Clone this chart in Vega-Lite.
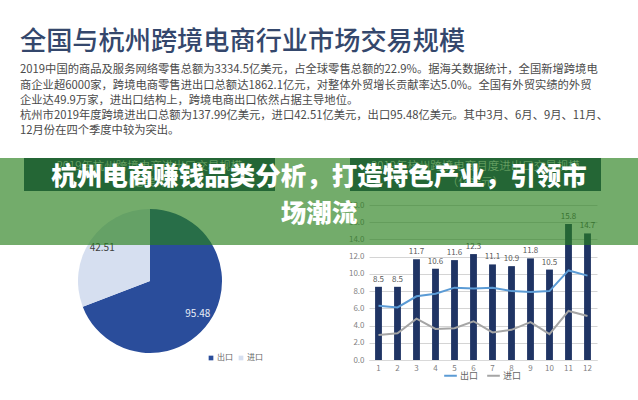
{
  "$schema": "https://vega.github.io/schema/vega-lite/v6.json",
  "background": "white",
  "padding": {"left": 0, "right": 0, "top": 29, "bottom": 0},
  "title": {
    "text": "全国与杭州跨境电商行业市场交易规模",
    "subtitle": [
      "2019中国的商品及服务网络零售总额为3334.5亿美元，占全球零售总额的22.9%。据海关数据统计，全国新增跨境电",
      "商企业超6000家，跨境电商零售进出口总额达1862.1亿元，对整体外贸增长贡献率达5.0%。全国有外贸实绩的外贸",
      "企业达49.9万家，进出口结构上，跨境电商出口依然占据主导地位。",
      "杭州市2019年度跨境进出口总额为137.99亿美元，进口42.51亿美元，出口95.48亿美元。其中3月、6月、9月、11月、",
      "12月份在四个季度中较为突出。"
    ],
    "anchor": "start",
    "frame": "bounds",
    "dx": 20,
    "offset": 16,
    "fontSize": 26.2,
    "fontWeight": 500,
    "color": "#34476c",
    "font": "Noto Sans CJK SC",
    "subtitleFont": "Noto Sans CJK SC",
    "subtitleFontSize": 11.3,
    "subtitleColor": "#4a4a4a",
    "subtitleLineHeight": 15.2,
    "subtitlePadding": 9
  },
  "datasets": {
    "pie": [
      {"type": "出口", "value": 95.48},
      {"type": "进口", "value": 42.51}
    ],
    "bars": [
      {"month": "1", "total": 8.5},
      {"month": "2", "total": 8.5},
      {"month": "3", "total": 11.7},
      {"month": "4", "total": 10.6},
      {"month": "5", "total": 11.6},
      {"month": "6", "total": 12.3},
      {"month": "7", "total": 11.1},
      {"month": "8", "total": 10.9},
      {"month": "9", "total": 11.8},
      {"month": "10", "total": 10.5},
      {"month": "11", "total": 15.8},
      {"month": "12", "total": 14.7}
    ],
    "lines": [
      {"month": "1", "type": "出口", "value": 6.3},
      {"month": "2", "type": "出口", "value": 6.1},
      {"month": "3", "type": "出口", "value": 7.4},
      {"month": "4", "type": "出口", "value": 7.7},
      {"month": "5", "type": "出口", "value": 8.4},
      {"month": "6", "type": "出口", "value": 8.3},
      {"month": "7", "type": "出口", "value": 8.4},
      {"month": "8", "type": "出口", "value": 8.0},
      {"month": "9", "type": "出口", "value": 7.9},
      {"month": "10", "type": "出口", "value": 8.0},
      {"month": "11", "type": "出口", "value": 10.4},
      {"month": "12", "type": "出口", "value": 9.8},
      {"month": "1", "type": "进口", "value": 2.9},
      {"month": "2", "type": "进口", "value": 3.1},
      {"month": "3", "type": "进口", "value": 4.8},
      {"month": "4", "type": "进口", "value": 3.6},
      {"month": "5", "type": "进口", "value": 3.7},
      {"month": "6", "type": "进口", "value": 4.5},
      {"month": "7", "type": "进口", "value": 3.2},
      {"month": "8", "type": "进口", "value": 3.5},
      {"month": "9", "type": "进口", "value": 4.4},
      {"month": "10", "type": "进口", "value": 3.0},
      {"month": "11", "type": "进口", "value": 5.7},
      {"month": "12", "type": "进口", "value": 5.1}
    ]
  },
  "bounds": "flush",
  "spacing": 0,
  "vconcat": [
    {
      "spacing": 10,
      "vconcat": [
        {
          "spacing": 23,
          "hconcat": [
            {
              "width": 1,
              "height": 1,
              "data": {"values": [{"t": ""}]},
              "mark": {"type": "text"},
              "encoding": {"text": {"field": "t"}}
            },
            {
              "spacing": 75,
              "hconcat": [
                {
                  "width": 251,
                  "height": 33,
                  "view": {"fill": "#1f3864", "stroke": null},
                  "data": {"values": [{"t": "2019年杭州跨境电商进出口交易规模\n（亿美元）"}]},
                  "mark": {"type": "text", "lineBreak": "\n", "lineHeight": 16, "dy": -8, "fontSize": 11.5, "fontWeight": 300, "color": "#ffffff"},
                  "encoding": {"text": {"field": "t"}}
                },
                {
                  "width": 251,
                  "height": 33,
                  "view": {"fill": "#1f3864", "stroke": null},
                  "data": {"values": [{"t": "2019年杭州跨境电商月度进出口交易规模\n（亿美元）"}]},
                  "mark": {"type": "text", "lineBreak": "\n", "lineHeight": 16, "dy": -8, "fontSize": 11.5, "fontWeight": 300, "color": "#ffffff"},
                  "encoding": {"text": {"field": "t"}}
                }
              ]
            }
          ]
        },
        {
          "bounds": "flush",
          "spacing": 69,
          "resolve": {"scale": {"color": "independent"}},
          "hconcat": [
            {
              "width": 300,
              "height": 152,
              "data": {"name": "pie"},
              "layer": [
                {
                  "mark": {"type": "arc", "outerRadius": 72},
                  "encoding": {
                    "theta": {"field": "value", "type": "quantitative", "stack": true},
                    "order": {"field": "type", "sort": "ascending"},
                    "color": {
                      "field": "type",
                      "type": "nominal",
                      "scale": {"domain": ["出口", "进口"], "range": ["#2a4d9b", "#d6dff0"]},
                      "legend": {
                        "orient": "none",
                        "legendX": 207,
                        "legendY": 149,
                        "direction": "horizontal",
                        "title": null,
                        "symbolType": "square",
                        "symbolSize": 22,
                        "labelFontSize": 8,
                        "labelColor": "#666666",
                        "columnPadding": 4,
                        "labelOffset": 2
                      }
                    }
                  }
                },
                {
                  "mark": {"type": "text", "radius": 58, "fontSize": 10},
                  "encoding": {
                    "theta": {"field": "value", "type": "quantitative", "stack": true},
                    "order": {"field": "type", "sort": "ascending"},
                    "detail": {"field": "type", "type": "nominal"},
                    "text": {"field": "value", "type": "quantitative", "format": ".2f"},
                    "color": {
                      "condition": {"test": "datum.type === '出口'", "value": "#e8edf6"},
                      "value": "#3f3f3f"
                    }
                  }
                }
              ]
            },
            {
              "width": 228,
              "height": 155,
              "layer": [
                {
                  "data": {"name": "bars"},
                  "mark": {"type": "bar", "color": "#1f3464"},
                  "encoding": {
                    "x": {
                      "field": "month",
                      "type": "ordinal",
                      "sort": null,
                      "scale": {"paddingInner": 0.64, "paddingOuter": 0.32},
                      "axis": {"title": null, "labelAngle": 0, "ticks": false, "domain": true, "domainColor": "#d9d9d9", "labelFontSize": 8, "labelColor": "#7f7f7f", "labelPadding": 4, "grid": false}
                    },
                    "y": {
                      "field": "total",
                      "type": "quantitative",
                      "scale": {"domain": [0, 18], "nice": false},
                      "axis": {"title": null, "tickCount": 9, "labelOverlap": false, "labelSeparation": 0, "format": ".1f", "domain": false, "ticks": false, "grid": true, "gridColor": "#d4d4d4", "labelFontSize": 8, "labelColor": "#7f7f7f", "labelPadding": 5}
                    }
                  }
                },
                {
                  "data": {"name": "bars"},
                  "mark": {"type": "text", "dy": -7, "fontSize": 8, "color": "#595959"},
                  "encoding": {
                    "x": {"field": "month", "type": "ordinal", "sort": null},
                    "y": {"field": "total", "type": "quantitative"},
                    "text": {"field": "total", "type": "quantitative", "format": ".1f"}
                  }
                },
                {
                  "data": {"name": "lines"},
                  "mark": {"type": "line", "strokeWidth": 2},
                  "encoding": {
                    "x": {"field": "month", "type": "ordinal", "sort": null},
                    "y": {"field": "value", "type": "quantitative"},
                    "color": {
                      "field": "type",
                      "type": "nominal",
                      "scale": {"domain": ["出口", "进口"], "range": ["#5b9bd5", "#a5a5a5"]},
                      "legend": {
                        "orient": "none",
                        "legendX": 74,
                        "legendY": 163,
                        "direction": "horizontal",
                        "title": null,
                        "symbolType": "stroke",
                        "symbolSize": 160,
                        "symbolStrokeWidth": 2,
                        "labelFontSize": 9,
                        "labelColor": "#666666",
                        "columnPadding": 4,
                        "labelOffset": 2
                      }
                    }
                  }
                }
              ]
            }
          ]
        }
      ]
    },
    {
      "width": 638,
      "height": 87,
      "view": {"fill": "#28801c", "fillOpacity": 0.65, "stroke": null},
      "data": {"values": [{"t": "杭州电商赚钱品类分析，打造特色产业，引领市\n场潮流"}]},
      "mark": {"type": "text", "lineBreak": "\n", "lineHeight": 37, "dy": -25, "fontSize": 25.5, "fontWeight": 900, "color": "#ffffff"},
      "encoding": {"text": {"field": "t"}}
    }
  ],
  "config": {
    "view": {"stroke": null},
    "font": "Noto Sans CJK SC",
    "axis": {"labelOverlap": false}
  }
}
